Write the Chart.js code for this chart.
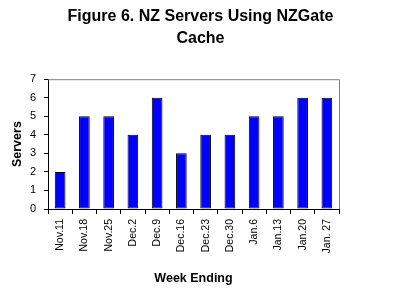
<!DOCTYPE html>
<html>
<head>
<meta charset="utf-8">
<script src="https://cdn.jsdelivr.net/npm/chart.js@4/dist/chart.umd.min.js"></script>
<style>
  html, body { margin: 0; padding: 0; background: #fff; }
  #wrap { width: 415px; height: 290px; }
</style>
</head>
<body>
<div id="wrap"><canvas id="chart" width="415" height="290"></canvas></div>
<script>
// Data
const weeks = ['Nov.11', 'Nov.18', 'Nov.25', 'Dec.2', 'Dec.9', 'Dec.16', 'Dec.23', 'Dec.30', 'Jan.6', 'Jan.13', 'Jan.20', 'Jan. 27'];
const servers = [2, 5, 5, 4, 6, 3, 4, 4, 5, 5, 6, 6];
const yTicks = [0, 1, 2, 3, 4, 5, 6, 7];

const FONT = 'Arial, "Liberation Sans", sans-serif';

// gray frame on top and right of the plot area
const frame = {
    id: 'frame',
    afterDatasetsDraw(chart) {
        const { ctx, chartArea: a } = chart;
        ctx.save();
        ctx.strokeStyle = '#808080';
        ctx.lineWidth = 1;
        ctx.beginPath();
        ctx.moveTo(a.left, a.top + 0.5);
        ctx.lineTo(a.right + 0.5, a.top + 0.5);
        ctx.lineTo(a.right + 0.5, a.bottom);
        ctx.stroke();
        ctx.restore();
    }
};

new Chart(document.getElementById('chart'), {
    type: 'bar',
    data: {
        labels: weeks,
        datasets: [{
            label: 'Servers',
            data: servers,
            backgroundColor: '#0000ff',
            borderColor: '#000000',
            borderWidth: 1,
            borderSkipped: false,
            barPercentage: 0.44,
            categoryPercentage: 1
        }]
    },
    options: {
        responsive: false,
        animation: false,
        layout: { padding: { top: 6, left: 0, right: 14, bottom: 4 } },
        plugins: {
            legend: { display: false },
            tooltip: { enabled: false },
            title: {
                display: true,
                text: ['Figure 6. NZ Servers Using NZGate', 'Cache'],
                color: '#000',
                font: { family: FONT, size: 16, weight: 'bold', lineHeight: 1.35 },
                padding: { top: 0, bottom: 30 }
            }
        },
        scales: {
            x: {
                grid: { display: true, drawOnChartArea: false, drawTicks: true, tickLength: 5, color: '#000', offset: true },
                border: { color: '#000', width: 1 },
                ticks: { color: '#000', font: { family: FONT, size: 10.5 }, minRotation: 90, maxRotation: 90, autoSkip: false, padding: 5 },
                title: {
                    display: true,
                    text: 'Week Ending',
                    color: '#000',
                    font: { family: FONT, size: 12.5, weight: 'bold' },
                    padding: { top: 4, bottom: 0 }
                },
                afterFit(scale) { scale.height = 77; }
            },
            y: {
                min: 0,
                max: 7,
                afterBuildTicks(scale) { scale.ticks = yTicks.map(v => ({ value: v })); },
                grid: { display: true, drawOnChartArea: false, drawTicks: true, tickLength: 4, color: '#000' },
                border: { color: '#000', width: 1 },
                ticks: { color: '#000', font: { family: FONT, size: 11 }, padding: 8 },
                title: {
                    display: true,
                    text: 'Servers',
                    color: '#000',
                    font: { family: FONT, size: 12.5, weight: 'bold' },
                    padding: { top: 10, bottom: 0 }
                },
                afterFit(scale) { scale.width = 48; }
            },
            y2: {
                position: 'right',
                display: true,
                grid: { display: false },
                border: { display: false },
                ticks: { display: false },
                afterFit(scale) { scale.width = 62; }
            }
        }
    },
    plugins: [frame]
});
</script>
</body>
</html>
